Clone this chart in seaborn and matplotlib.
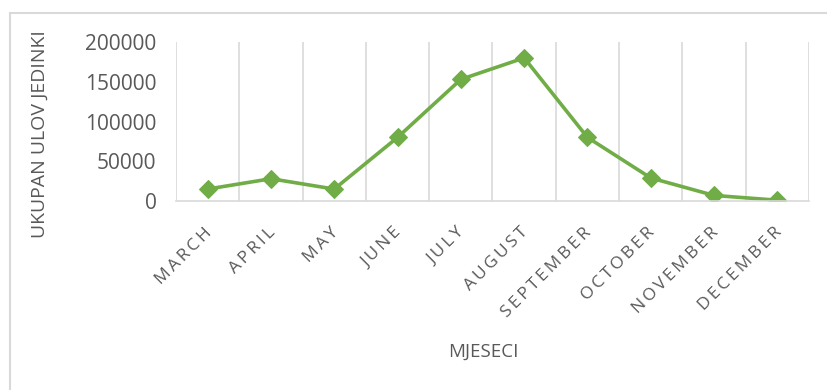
import matplotlib
matplotlib.use("Agg")
import matplotlib.pyplot as plt
from matplotlib.lines import Line2D
from matplotlib.transforms import ScaledTranslation
import seaborn as sns
import pandas as pd

months = ["MARCH", "APRIL", "MAY", "JUNE", "JULY", "AUGUST",
          "SEPTEMBER", "OCTOBER", "NOVEMBER", "DECEMBER"]
catch = [15000, 28000, 15000, 80000, 153000, 180000, 80000, 29000, 7000, 1000]
y_ticks = [0, 50000, 100000, 150000, 200000]

sns.set_theme(style="white")
plt.rcParams["font.family"] = ["Open Sans", "DejaVu Sans"]

TEXT = "#595959"
GRID = "#D9D9D9"
GREEN = "#70AD47"

df = pd.DataFrame({"month": months, "catch": catch})

fig = plt.figure(figsize=(8.28, 3.90), dpi=100)
ax = fig.add_axes([176 / 828, 1 - 201 / 390, (809 - 176) / 828, (201 - 42) / 390])

sns.lineplot(data=df, x="month", y="catch", ax=ax, color=GREEN,
             linewidth=2.6, marker="D", markersize=9,
             markeredgecolor=GREEN, markerfacecolor=GREEN, sort=False)

ax.set_xlim(-0.5, len(months) - 0.5)
ax.set_ylim(0, 200000)
ax.set_yticks(y_ticks)
ax.set_yticklabels([str(v) for v in y_ticks], fontsize=15, color=TEXT)

# vertical gridlines at category boundaries
for b in [i - 0.5 for i in range(len(months) + 1)]:
    ax.axvline(b, color=GRID, linewidth=1.2, zorder=0)

ax.set_xticks(range(len(months)))
ax.set_xticklabels(["\u2009".join(m) for m in months], rotation=45,
                   ha="right", rotation_mode="anchor", fontsize=12.5, color=TEXT)
ax.tick_params(axis="x", length=0, pad=17)
ax.tick_params(axis="y", length=0, pad=14)
shift = ScaledTranslation(-4 / 100, 0, fig.dpi_scale_trans)
for lab in ax.get_xticklabels():
    lab.set_transform(lab.get_transform() + shift)

for s in ["top", "right", "left"]:
    ax.spines[s].set_visible(False)
ax.spines["bottom"].set_color(GRID)
ax.spines["bottom"].set_linewidth(1.2)

ax.set_xlabel("")
ax.set_ylabel("")
fig.text(40 / 828, 1 - 134 / 390, "UKUPAN ULOV JEDINKI", rotation=90,
         ha="center", va="center", fontsize=14, color=TEXT)
fig.text(483 / 828, 1 - 352 / 390, "MJESECI", ha="center", va="center",
         fontsize=13.5, color=TEXT)

# chart frame
fig.add_artist(Line2D([10 / 828, 1.0], [1 - 13 / 390, 1 - 13 / 390],
                      transform=fig.transFigure, color=GRID, linewidth=1.5))
fig.add_artist(Line2D([10 / 828, 10 / 828], [0.0, 1 - 13 / 390],
                      transform=fig.transFigure, color=GRID, linewidth=1.5))

fig.savefig("out.png", dpi=100)
